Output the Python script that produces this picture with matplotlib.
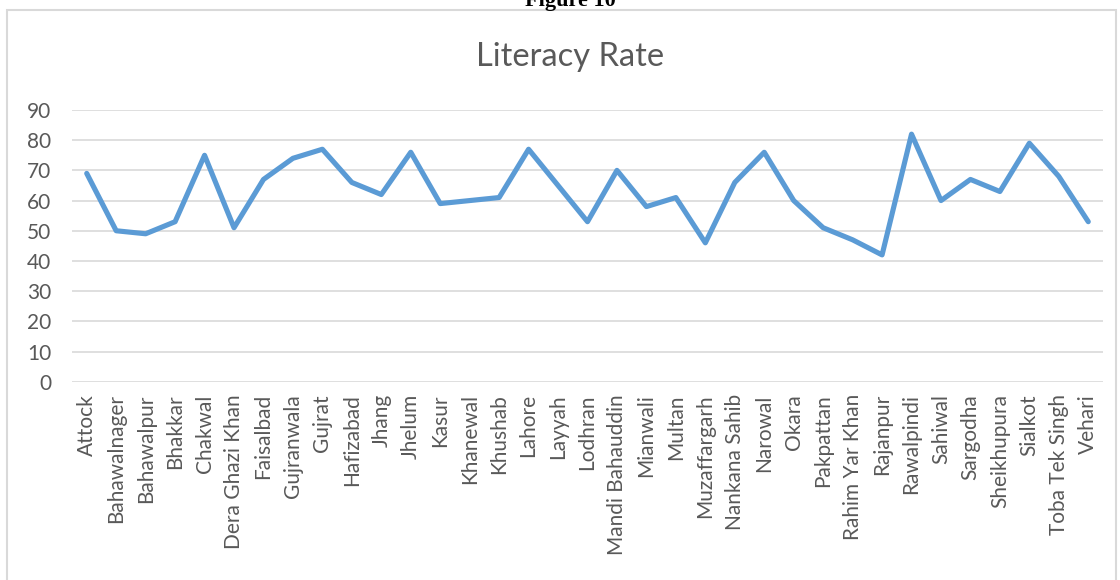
import matplotlib
matplotlib.use('Agg')
import numpy as np
from matplotlib import pyplot as plt
from matplotlib.patches import Rectangle

districts = ["Attock", "Bahawalnager", "Bahawalpur", "Bhakkar", "Chakwal", "Dera Ghazi Khan",
             "Faisalbad", "Gujranwala", "Gujrat", "Hafizabad", "Jhang", "Jhelum", "Kasur",
             "Khanewal", "Khushab", "Lahore", "Layyah", "Lodhran", "Mandi Bahauddin",
             "Mianwali", "Multan", "Muzaffargarh", "Nankana Sahib", "Narowal", "Okara",
             "Pakpattan", "Rahim Yar Khan", "Rajanpur", "Rawalpindi", "Sahiwal", "Sargodha",
             "Sheikhupura", "Sialkot", "Toba Tek Singh", "Vehari"]
literacy = [69, 50, 49, 53, 75, 51, 67, 74, 77, 66, 62, 76, 59, 60, 61, 77, 65, 53, 70,
            58, 61, 46, 66, 76, 60, 51, 47, 42, 82, 60, 67, 63, 79, 68, 53]
y_ticks = [0, 10, 20, 30, 40, 50, 60, 70, 80, 90]

W, H = 1120, 580
plt.rcParams['font.family'] = ['Lato', 'DejaVu Sans']
fig = plt.figure(figsize=(W / 100, H / 100), dpi=100)

# chart frame and the cut-off caption above it
fig.patches.append(Rectangle((7 / W, -0.05), (1116 - 7) / W, 1.05 - 10 / H,
                             transform=fig.transFigure, fill=False,
                             edgecolor='#D9D9D9', linewidth=1.5))
fig.text(570 / W, 1 - 6 / H, "Figure 10", ha='center', va='baseline',
         fontsize=16, fontweight='bold', family='Liberation Serif', color='black')

ax = fig.add_axes([72 / W, 1 - 381.7 / H, (1103 - 72) / W, (381.7 - 110) / H])
x = np.arange(len(districts))
ax.plot(x, literacy, color='#5B9BD5', linewidth=3.7, solid_joinstyle='round',
        solid_capstyle='round', zorder=3)

ax.set_xlim(-0.5, len(districts) - 0.5)
ax.set_ylim(0, 90)
ax.set_yticks(y_ticks)
ax.set_xticks(x)
ax.set_xticklabels(districts, rotation=90)
ax.yaxis.grid(True, color='#D9D9D9', linewidth=1.2)
ax.set_axisbelow(True)
for s in ax.spines.values():
    s.set_visible(False)
ax.tick_params(axis='both', length=0, labelcolor='#595959', labelsize=15)
ax.tick_params(axis='y', pad=15)
ax.tick_params(axis='x', pad=9)

fig.text(570 / W, 1 - 57 / H, "Literacy Rate", ha='center', va='center',
         fontsize=23.5, color='#595959')

fig.savefig('out.png', dpi=100)
